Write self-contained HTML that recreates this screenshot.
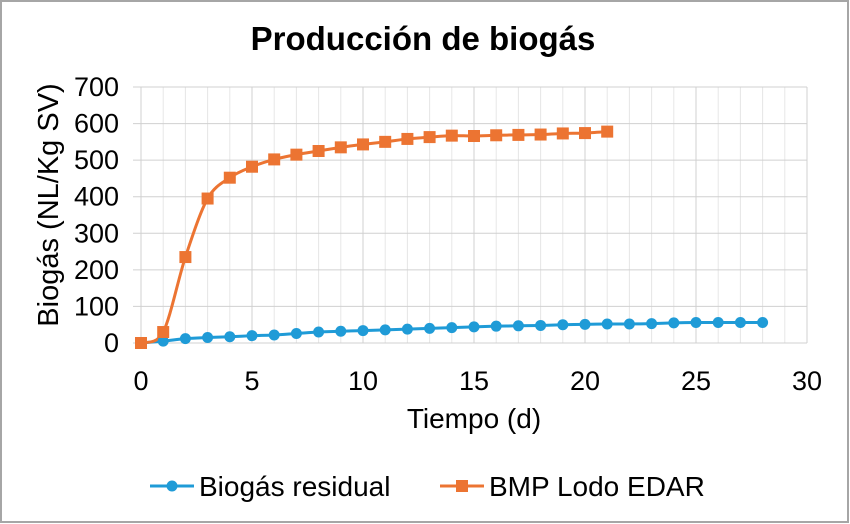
<!DOCTYPE html>
<html><head><meta charset="utf-8"><style>
html,body{margin:0;padding:0;background:#fff;}
svg{display:block;font-family:"Liberation Sans",Arial,sans-serif;}
</style></head><body>
<svg id="s" width="850" height="524" viewBox="0 0 850 524" xmlns="http://www.w3.org/2000/svg">
<rect x="1" y="1" width="847" height="521" fill="#fff" stroke="#a6a6a6" stroke-width="2"/>
<text x="423" y="50" text-anchor="middle" font-size="33" font-weight="bold" fill="#000">Producción de biogás</text>
<g id="grid"></g>
<g id="labels" font-size="27" fill="#000"></g>
<text transform="translate(58,205) rotate(-90)" text-anchor="middle" font-size="29" fill="#000">Biogás (NL/Kg SV)</text>
<text x="474" y="428" text-anchor="middle" font-size="28" fill="#000">Tiempo (d)</text>
<g id="series"></g>
<line x1="150" y1="486" x2="194" y2="486" stroke="#1f9bd7" stroke-width="3"/>
<circle cx="172" cy="486" r="5.5" fill="#1f9bd7"/>
<text x="199" y="496" font-size="28" fill="#000">Biogás residual</text>
<line x1="440" y1="486" x2="484" y2="486" stroke="#ec7432" stroke-width="3"/>
<rect x="456" y="480" width="12" height="12" fill="#ec7432"/>
<text x="489" y="496" font-size="28" fill="#000">BMP Lodo EDAR</text>
</svg>
<script>
var NS="http://www.w3.org/2000/svg";
function X(v){return 141+v*22.2;}
function Y(v){return 343-v*256/700;}
function el(t,a,p){var e=document.createElementNS(NS,t);for(var k in a)e.setAttribute(k,a[k]);document.getElementById(p).appendChild(e);return e;}
for(var i=0;i<=30;i++){el("line",{x1:X(i),x2:X(i),y1:Y(700),y2:Y(0),stroke:i%5==0?"#d0d0d0":"#e6e6e6","stroke-width":1},"grid");}
for(var j=0;j<=7;j++){el("line",{x1:133,x2:X(30),y1:Y(j*100),y2:Y(j*100),stroke:"#d0d0d0","stroke-width":1},"grid");
var t=el("text",{x:119,y:Y(j*100)+9,"text-anchor":"end"},"labels");t.textContent=j*100;}
for(var i=0;i<=30;i+=5){var t=el("text",{x:X(i),y:390,"text-anchor":"middle"},"labels");t.textContent=i;}
var o=[0,30,235,395,452,482,502,515,525,535,543,550,558,563,567,566,568,569,570,573,574,578];
var b=[0,5,12,15,17,20,22,26,30,32,34,36,38,40,42,44,46,47,48,50,51,52,52,53,55,56,56,56,56];
function path(d){var p=d.map(function(v,i){return [X(i),Y(v)];});var s="M"+p[0][0]+","+p[0][1];
for(var i=0;i<p.length-1;i++){var p0=p[i-1]||p[i],p1=p[i],p2=p[i+1],p3=p[i+2]||p2;var t=0.16;
s+=" C"+(p1[0]+(p2[0]-p0[0])*t)+","+(p1[1]+(p2[1]-p0[1])*t)+" "+(p2[0]-(p3[0]-p1[0])*t)+","+(p2[1]-(p3[1]-p1[1])*t)+" "+p2[0]+","+p2[1];}
return s;}
el("path",{d:path(b),fill:"none",stroke:"#1f9bd7","stroke-width":3},"series");
el("path",{d:path(o),fill:"none",stroke:"#ec7432","stroke-width":3},"series");
b.forEach(function(v,i){el("circle",{cx:X(i),cy:Y(v),r:5.5,fill:"#1f9bd7"},"series");});
o.forEach(function(v,i){el("rect",{x:X(i)-6,y:Y(v)-6,width:12,height:12,fill:"#ec7432"},"series");});
</script>
</body></html>
